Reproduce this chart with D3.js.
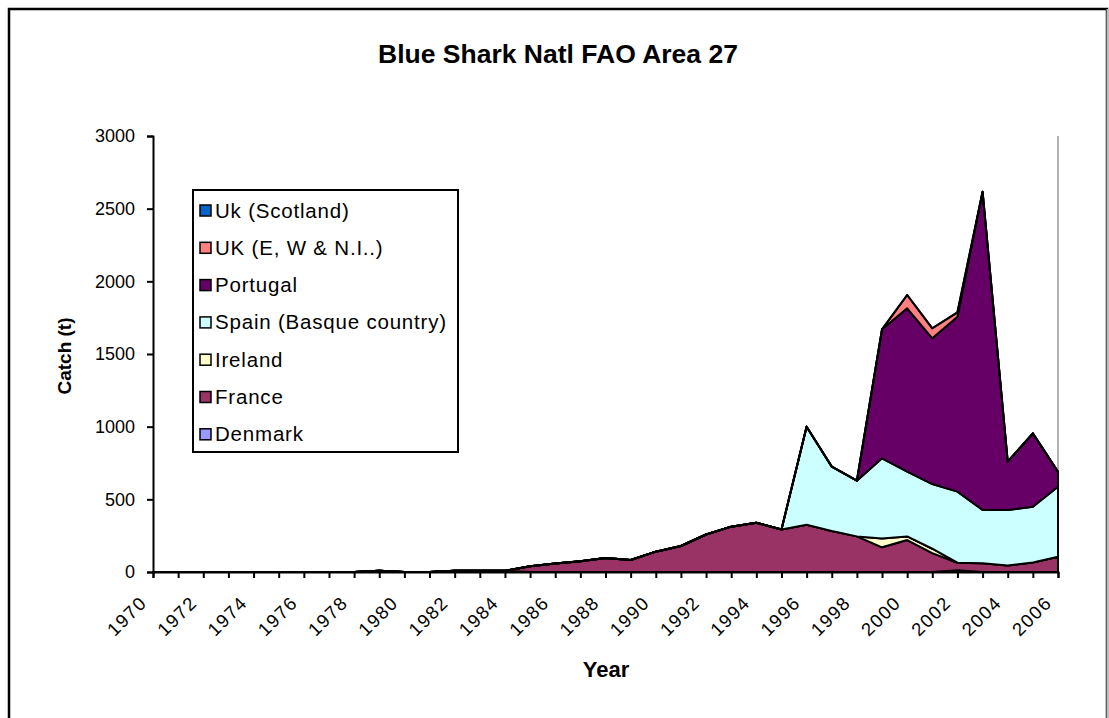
<!DOCTYPE html>
<html><head><meta charset="utf-8">
<script src="https://cdn.jsdelivr.net/npm/d3@7"></script>
<style>
html,body{margin:0;padding:0;background:#fff;}
svg{display:block;font-family:Arial,"Liberation Sans",sans-serif;}
</style></head>
<body>
<svg id="chart" width="1109" height="718"></svg>
<script>
// ---- data ----
const years = [1970,1971,1972,1973,1974,1975,1976,1977,1978,1979,1980,1981,1982,1983,1984,1985,1986,1987,1988,1989,1990,1991,1992,1993,1994,1995,1996,1997,1998,1999,2000,2001,2002,2003,2004,2005,2006];
const tickLabels = ["1970","1972","1974","1976","1978","1980","1982","1984","1986","1988","1990","1992","1994","1996","1998","2000","2002","2004","2006"];
const yTicks = [0,500,1000,1500,2000,2500,3000];
const seriesNames = ["Denmark","France","Ireland","Spain (Basque country)","Portugal","UK (E, W & N.I..)","Uk (Scotland)"];
const seriesColors = ["#9999FF","#993366","#FFFFCC","#CCFFFF","#660066","#FF8080","#0066CC"];
const denmark  = [0,0,0,0,0,0,0,0,0,8,0,0,8,8,8,0,0,0,0,0,0,0,0,0,0,0,0,0,0,0,0,0,12,0,0,0,0];
const france   = [0,0,0,0,0,0,0,0,0,0,0,0,0,0,0,40,58,74,96,83,140,179,258,312,339,292,325,282,245,170,220,130,52,60,45,65,105];
const ireland  = [0,0,0,0,0,0,0,0,0,0,0,0,0,0,0,0,0,0,0,0,0,0,0,0,0,0,0,0,0,60,25,30,0,0,0,0,0];
const spain    = [0,0,0,0,0,0,0,0,0,0,0,0,0,0,0,0,0,0,0,0,0,0,0,0,0,0,675,443,383,552,445,445,489,367,382,384,482];
const portugal = [0,0,0,0,0,0,0,0,0,0,0,0,0,0,0,0,0,0,0,0,0,0,0,0,0,0,0,0,0,888,1124,1003,1204,2190,332,505,103];
const ukEW     = [0,0,0,0,0,0,0,0,0,0,0,0,0,0,0,0,0,0,0,0,0,0,0,0,0,0,0,0,0,0,92,69,30,0,0,0,0];
const ukScot   = [0,0,0,0,0,0,0,0,0,0,0,0,0,0,0,0,0,0,0,0,0,0,0,0,0,0,0,0,0,0,0,0,0,0,0,0,0];
const seriesValues = [denmark,france,ireland,spain,portugal,ukEW,ukScot];

// ---- layout ----
const svg = d3.select("#chart");
const pLeft = 153, pRight = 1058, pTop = 136, pBottom = 572;

// chart frame
svg.append("rect").attr("x",9).attr("y",9).attr("width",1098).attr("height",760)
  .attr("fill","#fff").attr("stroke","#000").attr("stroke-width",2.5);
svg.append("line").attr("x1",1107.5).attr("x2",1107.5).attr("y1",9).attr("y2",718).attr("stroke","#bbb").attr("stroke-width",2);

const x = d3.scaleLinear().domain([years[0], years[years.length-1]]).range([pLeft,pRight]);
const y = d3.scaleLinear().domain([0,3000]).range([pBottom,pTop]);

const table = years.map((yr,i)=>{
  const o = {year:yr};
  seriesNames.forEach((n,k)=>o[n]=seriesValues[k][i]);
  return o;
});
const stack = d3.stack().keys(seriesNames)(table);
const area = d3.area().x(d=>x(d.data.year)).y0(d=>y(d[0])).y1(d=>y(d[1]));

// plot right edge
svg.append("line").attr("x1",pRight).attr("x2",pRight).attr("y1",pTop).attr("y2",pBottom)
  .attr("stroke","#999").attr("stroke-width",1.5);

svg.append("g").selectAll("path").data(stack).join("path")
  .attr("d",area)
  .attr("fill",(d,i)=>seriesColors[i])
  .attr("stroke","#000").attr("stroke-width",2).attr("stroke-linejoin","round");

// y axis
const yAxis = svg.append("g").attr("transform",`translate(${pLeft},0)`)
  .call(d3.axisLeft(y).tickValues(yTicks).tickSize(6).tickPadding(12).tickFormat(d3.format("d")));
yAxis.select(".domain").attr("stroke","#000").attr("stroke-width",2);
yAxis.selectAll(".tick line").attr("stroke","#000").attr("stroke-width",2);
yAxis.selectAll(".tick text").attr("font-size",18).attr("font-family","Arial,'Liberation Sans',sans-serif").attr("fill","#000");

// x axis
const xAxis = svg.append("g").attr("transform",`translate(0,${pBottom})`)
  .call(d3.axisBottom(x).tickValues(years).tickSize(6).tickFormat(""));
xAxis.select(".domain").attr("stroke","#000").attr("stroke-width",2);
xAxis.selectAll(".tick line").attr("stroke","#000").attr("stroke-width",2);

svg.append("g").selectAll("text").data(tickLabels).join("text")
  .attr("transform",d=>`translate(${x(+d)-5},${pBottom+32}) rotate(-45)`)
  .attr("text-anchor","end").attr("font-size",18.5).attr("letter-spacing",1.5).attr("fill","#000")
  .text(d=>d);

// titles
svg.append("text").attr("x",558).attr("y",63).attr("text-anchor","middle")
  .attr("font-size",26.5).attr("font-weight","bold").text("Blue Shark Natl FAO Area 27");
svg.append("text").attr("x",606).attr("y",677).attr("text-anchor","middle")
  .attr("font-size",22).attr("font-weight","bold").text("Year");
svg.append("text").attr("transform","translate(71,356) rotate(-90)").attr("text-anchor","middle")
  .attr("font-size",19).attr("font-weight","bold").text("Catch (t)");

// legend
const lg = svg.append("g");
lg.append("rect").attr("x",193).attr("y",190).attr("width",265).attr("height",262)
  .attr("fill","#fff").attr("stroke","#000").attr("stroke-width",2);
const legendOrder = seriesNames.map((n,i)=>i).reverse();
const items = lg.selectAll("g.item").data(legendOrder).join("g").attr("class","item")
  .attr("transform",(d,j)=>`translate(200,${211 + j*37.3})`);
items.append("rect").attr("x",0).attr("y",-6).attr("width",11).attr("height",11)
  .attr("fill",d=>seriesColors[d]).attr("stroke","#000").attr("stroke-width",1.5);
items.append("text").attr("x",15).attr("y",6.5).attr("font-size",20.5).attr("letter-spacing",0.8)
  .attr("fill","#000").text(d=>seriesNames[d]);
</script>
</body></html>
